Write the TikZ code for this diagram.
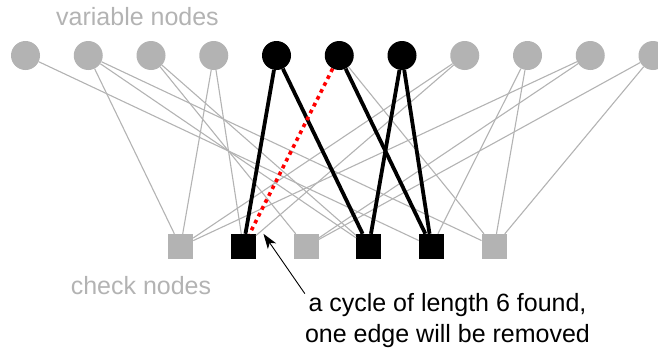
\documentclass[tikz,border=0pt]{standalone}
\usepackage{fontspec}
\setmainfont{Liberation Sans}
\usetikzlibrary{arrows.meta}

\definecolor{nodegray}{RGB}{179,179,179}

\tikzset{
	var/.style={circle,fill=nodegray,minimum size=29pt,inner sep=0pt},
	chk/.style={rectangle,fill=nodegray,minimum size=25pt,inner sep=0pt},
	active/.style={fill=black},
	edge/.style={nodegray,line width=1.1pt},
	cycleedge/.style={black,line width=3.8pt},
	cutedge/.style={red,line width=3.6pt,dash pattern=on 3.7pt off 4pt},
	pointer/.style={-{Stealth[length=15pt,width=10pt,inset=4pt]},line width=0.9pt},
	grayfont/.style={nodegray,inner sep=0pt,anchor=base}
}

\begin{document}
\begin{tikzpicture}[x=1pt,y=-1pt,font=\fontsize{25}{31}\selectfont]
	\useasboundingbox (0,0) rectangle (658,351);
	%variable nodes
		\node[var] (v0) at (25.5,55.5) {};
		\node[var] (v1) at (88.25,55.5) {};
		\node[var] (v2) at (151,55.5) {};
		\node[var] (v3) at (213.75,55.5) {};
		\node[var,active] (v4) at (276.5,55.5) {};
		\node[var,active] (v5) at (339.25,55.5) {};
		\node[var,active] (v6) at (402,55.5) {};
		\node[var] (v7) at (464.75,55.5) {};
		\node[var] (v8) at (527.5,55.5) {};
		\node[var] (v9) at (590.25,55.5) {};
		\node[var] (v10) at (653,55.5) {};
	%check nodes
		\node[chk] (c0) at (180.5,246.5) {};
		\node[chk,active] (c1) at (243.25,246.5) {};
		\node[chk] (c2) at (306,246.5) {};
		\node[chk,active] (c3) at (368.75,246.5) {};
		\node[chk,active] (c4) at (431.5,246.5) {};
		\node[chk] (c5) at (494.25,246.5) {};
	%remaining edges
		\draw[edge] (v0) -- (c4);
		\draw[edge] (v1) -- (c0);
		\draw[edge] (v1) -- (c3);
		\draw[edge] (v1) -- (c5);
		\draw[edge] (v2) -- (c2);
		\draw[edge] (v2) -- (c3);
		\draw[edge] (v3) -- (c0);
		\draw[edge] (v3) -- (c1);
		\draw[edge] (v5) -- (c5);
		\draw[edge] (v7) -- (c0);
		\draw[edge] (v7) -- (c1);
		\draw[edge] (v8) -- (c4);
		\draw[edge] (v8) -- (c5);
		\draw[edge] (v9) -- (c0);
		\draw[edge] (v9) -- (c2);
		\draw[edge] (v10) -- (c2);
		\draw[edge] (v10) -- (c5);
	%the cycle
		\draw[cycleedge] (v4) -- (c1);
		\draw[cycleedge] (v4) -- (c3);
		\draw[cycleedge] (v6) -- (c3);
		\draw[cycleedge] (v6) -- (c4);
		\draw[cycleedge] (v5) -- (c4);
		\draw[cutedge] (v5) -- (c1);
	%labels
		\node[grayfont] (varlabel) at (137.5,25) {variable nodes};
		\node[grayfont] (chklabel) at (141,294) {check nodes};
		\node[align=center,inner sep=0pt] (note) at (447.5,321)
			{a cycle of length 6 found,\\one edge will be removed};
		\draw[pointer] (note.north west) -- ([xshift=7.5pt]c1.north east);
\end{tikzpicture}
\end{document}
